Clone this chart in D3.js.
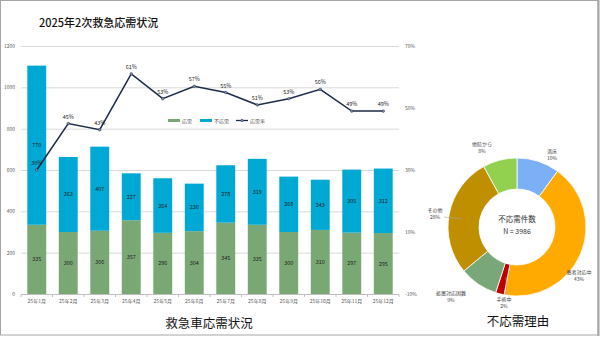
<!DOCTYPE html>
<html>
<head>
<meta charset="utf-8">
<script src="https://cdn.jsdelivr.net/npm/d3@7"></script>
<style>
  html, body { margin: 0; padding: 0; background: #fff; }
  svg text { font-family: "Noto Sans CJK JP", "Noto Sans", sans-serif; }
</style>
</head>
<body>
<div id="vis"></div>
<script>
// data
var months = ["25年1月","25年2月","25年3月","25年4月","25年5月","25年6月","25年7月","25年8月","25年9月","25年10月","25年11月","25年12月"];
var ouju = [335,300,306,357,296,304,345,335,300,310,297,295];
var fuouju = [770,363,407,227,264,230,278,319,268,243,305,312];
var oujuRate = [30,45,43,61,53,57,55,51,53,56,49,49];
var leftTicks = [0,200,400,600,800,1000,1200];
var rightTicks = [-10,10,30,50,70];

var reasons = ["満床","患者対応中","手術中","処置対応困難","その他","他院から"];
var reasonPct = [10,43,2,9,28,8];
var reasonTotal = 3986;

var width = 600, height = 338;
var svg = d3.select("#vis").append("svg").attr("width", width).attr("height", height);

// frame
svg.append("rect").attr("x", 0.5).attr("y", 0.5).attr("width", 597.5).attr("height", 334.5)
  .attr("fill", "none").attr("stroke", "#a6a6a6").attr("stroke-width", 1);
svg.append("line").attr("x1", 598.5).attr("x2", 598.5).attr("y1", 0).attr("y2", 336)
  .attr("stroke", "#a6a6a6").attr("stroke-width", 2);

svg.append("text").attr("x", 39).attr("y", 27).text("2025年2次救急応需状況")
  .attr("font-size", 11).attr("font-weight", 500).attr("fill", "#111");

// bar chart
var x = d3.scaleBand().domain(months).range([21, 399]).paddingInner(0.4).paddingOuter(0.2);
var y = d3.scaleLinear().domain([0, 1200]).range([294, 46]);
var y2 = d3.scaleLinear().domain([-10, 70]).range([294, 46]);

var green = "#7aa874", blue = "#00a9d4", navy = "#1c2b4a";

svg.append("g").selectAll("line").data(leftTicks.slice(1)).enter().append("line")
  .attr("x1", 21).attr("x2", 399)
  .attr("y1", function(d) { return y(d) + 0.5; }).attr("y2", function(d) { return y(d) + 0.5; })
  .attr("stroke", "#d9d9d9").attr("stroke-width", 1);

svg.append("g").selectAll("text").data(leftTicks).enter().append("text")
  .attr("x", 15).attr("y", function(d) { return y(d) + 2; })
  .attr("text-anchor", "end").attr("font-size", 5).attr("fill", "#595959")
  .text(function(d) { return d; });

svg.append("g").selectAll("text").data(rightTicks).enter().append("text")
  .attr("x", 405).attr("y", function(d) { return y2(d) + 2; })
  .attr("font-size", 5).attr("fill", "#595959")
  .text(function(d) { return d + "%"; });

var bars = svg.append("g");
bars.selectAll("rect.a").data(months).enter().append("rect").attr("class", "a")
  .attr("x", function(d) { return x(d); }).attr("width", x.bandwidth())
  .attr("y", function(d, i) { return y(ouju[i]); })
  .attr("height", function(d, i) { return y(0) - y(ouju[i]); })
  .attr("fill", green);
bars.selectAll("rect.b").data(months).enter().append("rect").attr("class", "b")
  .attr("x", function(d) { return x(d); }).attr("width", x.bandwidth())
  .attr("y", function(d, i) { return y(ouju[i] + fuouju[i]); })
  .attr("height", function(d, i) { return y(ouju[i]) - y(ouju[i] + fuouju[i]); })
  .attr("fill", blue);

bars.selectAll("text.a").data(months).enter().append("text").attr("class", "a")
  .attr("x", function(d) { return x(d) + x.bandwidth() / 2; })
  .attr("y", function(d, i) { return y(ouju[i] / 2) + 2; })
  .attr("text-anchor", "middle").attr("font-size", 5.5).attr("fill", "#222")
  .text(function(d, i) { return ouju[i]; });
bars.selectAll("text.b").data(months).enter().append("text").attr("class", "b")
  .attr("x", function(d) { return x(d) + x.bandwidth() / 2; })
  .attr("y", function(d, i) { return y(ouju[i] + fuouju[i] / 2) + 2; })
  .attr("text-anchor", "middle").attr("font-size", 5.5).attr("fill", "#222")
  .text(function(d, i) { return fuouju[i]; });

// axis baseline
svg.append("line").attr("x1", 21).attr("x2", 399).attr("y1", 294.5).attr("y2", 294.5)
  .attr("stroke", "#bfbfbf");
svg.append("g").selectAll("line").data(d3.range(13)).enter().append("line")
  .attr("x1", function(i) { return 21 + i * x.step(); })
  .attr("x2", function(i) { return 21 + i * x.step(); })
  .attr("y1", 294.5).attr("y2", 297).attr("stroke", "#bfbfbf");
svg.append("g").selectAll("text").data(months).enter().append("text")
  .attr("x", function(d) { return x(d) + x.bandwidth() / 2; }).attr("y", 303)
  .attr("text-anchor", "middle").attr("font-size", 5).attr("fill", "#595959")
  .text(function(d) { return d; });

// rate line
var line = d3.line()
  .x(function(d, i) { return x(months[i]) + x.bandwidth() / 2; })
  .y(function(d) { return y2(d); });
svg.append("path").datum(oujuRate).attr("d", line)
  .attr("fill", "none").attr("stroke", navy).attr("stroke-width", 1.5);
svg.append("g").selectAll("circle").data(oujuRate).enter().append("circle")
  .attr("cx", function(d, i) { return x(months[i]) + x.bandwidth() / 2; })
  .attr("cy", function(d) { return y2(d); }).attr("r", 1.3)
  .attr("fill", "#8a93a6").attr("stroke", navy).attr("stroke-width", 0.5);
svg.append("g").selectAll("text").data(oujuRate).enter().append("text")
  .attr("x", function(d, i) { return x(months[i]) + x.bandwidth() / 2; })
  .attr("y", function(d) { return y2(d) - 5; })
  .attr("text-anchor", "middle").attr("font-size", 5.5).attr("fill", "#222")
  .text(function(d) { return d + "%"; });

// legend
var lg = svg.append("g").attr("transform", "translate(168,121)");
lg.append("rect").attr("x", 0).attr("y", -2).attr("width", 12).attr("height", 3).attr("fill", green);
lg.append("text").attr("x", 14).attr("y", 1.8).attr("font-size", 5).attr("fill", "#595959").text("応需");
lg.append("rect").attr("x", 32).attr("y", -2).attr("width", 12).attr("height", 3).attr("fill", blue);
lg.append("text").attr("x", 46).attr("y", 1.8).attr("font-size", 5).attr("fill", "#595959").text("不応需");
lg.append("line").attr("x1", 68).attr("x2", 80).attr("y1", -0.5).attr("y2", -0.5).attr("stroke", navy).attr("stroke-width", 1.3);
lg.append("circle").attr("cx", 74).attr("cy", -0.5).attr("r", 1.2).attr("fill", "#8a93a6").attr("stroke", navy).attr("stroke-width", 0.5);
lg.append("text").attr("x", 82).attr("y", 1.8).attr("font-size", 5).attr("fill", "#595959").text("応需率");

svg.append("text").attr("x", 209).attr("y", 328).attr("text-anchor", "middle")
  .attr("font-size", 12.5).attr("fill", "#111").text("救急車応需状況");

// donut
var pieColors = ["#7cb0f6","#ffaa00","#c00000","#7aa77a","#bf8f00","#92d050"];
var cx = 517, cy = 227, rOut = 69, rIn = 38;
var pie = d3.pie().sort(null).value(function(d) { return d; });
var arcs = pie(reasonPct);
var arc = d3.arc().innerRadius(rIn).outerRadius(rOut);
var dg = svg.append("g").attr("transform", "translate(" + cx + "," + cy + ")");
dg.selectAll("path").data(arcs).enter().append("path")
  .attr("d", arc).attr("fill", function(d, i) { return pieColors[i]; })
  .attr("stroke", "#fff").attr("stroke-width", 0.8);

dg.append("text").attr("y", -5).attr("text-anchor", "middle").attr("font-size", 7.5).attr("fill", "#333").text("不応需件数");
dg.append("text").attr("y", 7).attr("text-anchor", "middle").attr("font-size", 7).attr("fill", "#333").text("N = " + reasonTotal);

// label positions relative to centre
var labelPos = [[35,-74],[62,47],[-13,74],[-66,68],[-82,-15],[-35,-81]];
var lbl = dg.selectAll("g.lbl").data(arcs).enter().append("g")
  .attr("transform", function(d, i) { return "translate(" + labelPos[i][0] + "," + labelPos[i][1] + ")"; });
lbl.append("text").attr("text-anchor", "middle").attr("font-size", 5).attr("fill", "#404040")
  .text(function(d, i) { return reasons[i]; });
lbl.append("text").attr("y", 7).attr("text-anchor", "middle").attr("font-size", 5).attr("fill", "#404040")
  .text(function(d, i) { return reasonPct[i] + "%"; });

// leader lines
dg.append("line").attr("x1", -73).attr("y1", -10).attr("x2", -55).attr("y2", -8).attr("stroke", "#a6a6a6").attr("stroke-width", 0.6);
dg.append("line").attr("x1", -10).attr("y1", 68).attr("x2", -11).attr("y2", 50).attr("stroke", "#a6a6a6").attr("stroke-width", 0.6);

svg.append("text").attr("x", 518).attr("y", 326).attr("text-anchor", "middle")
  .attr("font-size", 12.5).attr("fill", "#111").text("不応需理由");
</script>
</body>
</html>
